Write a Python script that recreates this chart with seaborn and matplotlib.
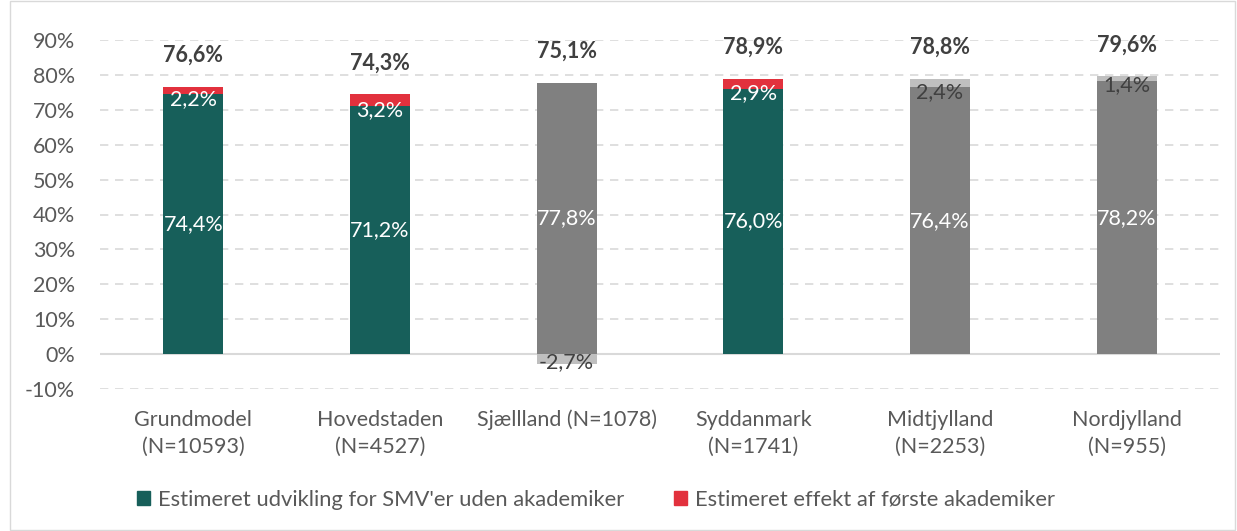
import matplotlib.pyplot as plt
import matplotlib.patches as mpatches
import seaborn as sns
import numpy as np

regions = ["Grundmodel\n(N=10593)", "Hovedstaden\n(N=4527)", "Sjællland (N=1078)",
           "Syddanmark\n(N=1741)", "Midtjylland\n(N=2253)", "Nordjylland\n(N=955)"]
base = [74.4, 71.2, 77.8, 76.0, 76.4, 78.2]
effect = [2.2, 3.2, -2.7, 2.9, 2.4, 1.4]
total = [76.6, 74.3, 75.1, 78.9, 78.8, 79.6]
significant = [True, True, False, True, False, False]

TEAL = "#175F5A"
RED = "#E2313D"
GRAY = "#808080"
LIGHT = "#BFBFBF"
TXT = "#404040"
FS = 15.5

sns.set_theme(style="white")
plt.rcParams["font.family"] = ["Lato", "DejaVu Sans"]

fig = plt.figure(figsize=(12.37, 5.31), dpi=100)
ax = fig.add_axes([100 / 1237, 142 / 531, 1120 / 1237, 349 / 531])

base_colors = [TEAL if s else GRAY for s in significant]
eff_colors = [RED if s else LIGHT for s in significant]

sns.barplot(x=regions, y=base, hue=regions, palette=base_colors, legend=False,
            width=0.32, saturation=1, linewidth=0, ax=ax, zorder=3)
xs = np.arange(len(regions))
bottoms = [b if e > 0 else 0 for b, e in zip(base, effect)]
ax.bar(xs, effect, bottom=bottoms, width=0.32, color=eff_colors, linewidth=0, zorder=2.9)

for x, b, e, t, s in zip(xs, base, effect, total, significant):
    ax.text(x, b / 2, f"{b:.1f}%".replace(".", ","), ha="center", va="center",
            color="white", fontsize=FS, zorder=4)
    ey = b - 1.2 if e > 0 else e / 2 - 0.8
    ax.text(x, ey, f"{e:.1f}%".replace(".", ","), ha="center", va="center",
            color="white" if s else TXT, fontsize=FS, zorder=4)
    top = max(b + max(e, 0), b)
    ax.text(x, top + 9, f"{t:.1f}%".replace(".", ","), ha="center", va="center",
            color=TXT, fontsize=FS, fontweight="bold", zorder=4)

ax.set_ylim(-10, 90)
ax.set_xlim(-0.5, len(regions) - 0.5)
ax.set_yticks(np.arange(-10, 91, 10))
ax.set_yticklabels([f"{v}%" for v in range(-10, 91, 10)])
for v in range(-10, 91, 10):
    if v != 0:
        ax.axhline(v, color="#D9D9D9", lw=1.2, ls=(0, (5, 4)), zorder=1)
ax.axhline(0, color="#D9D9D9", lw=1.5, zorder=2)
for sp in ax.spines.values():
    sp.set_visible(False)
ax.tick_params(axis="both", length=0, labelsize=FS, labelcolor="#595959")
ax.tick_params(axis="x", pad=15)
ax.tick_params(axis="y", pad=18)
for lbl in ax.get_xticklabels():
    lbl.set_linespacing(1.45)
ax.set_xlabel("")

handles = [mpatches.Patch(color=TEAL, label="Estimeret udvikling for SMV'er uden akademiker"),
           mpatches.Patch(color=RED, label="Estimeret effekt af første akademiker")]
fig.legend(handles=handles, loc="center left", bbox_to_anchor=(117 / 1237, 1 - 500 / 531),
           ncol=2, frameon=False, fontsize=15.8, handlelength=0.6, handleheight=0.6,
           handletextpad=0.35, columnspacing=2.3, labelcolor="#595959")

fig.patches.append(mpatches.Rectangle((10 / 1237, 1 / 531), 1225 / 1237, 529 / 531,
                                      transform=fig.transFigure, fill=False,
                                      edgecolor="#D9D9D9", lw=1))

fig.savefig("out.png", dpi=100)
